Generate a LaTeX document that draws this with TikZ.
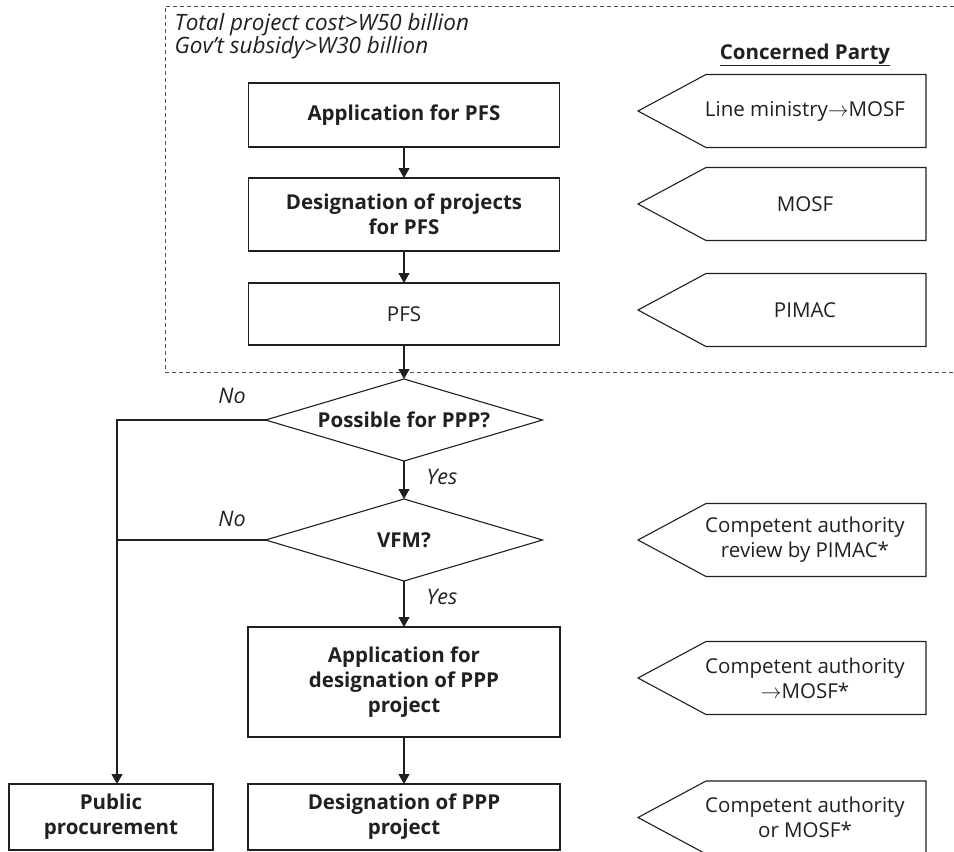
\documentclass[tikz,border=0pt]{standalone}
\usepackage{fontspec}
\setmainfont{Open Sans}
\usetikzlibrary{shapes.geometric,arrows.meta}
\definecolor{ink}{RGB}{35,31,32}
\newcommand\fsz{\fontsize{20.5}{25}\selectfont}
\newcommand\isz{\fontsize{21.5}{25}\selectfont}
\newcommand\hsz{\fontsize{22.5}{25}\selectfont}
\begin{document}
\begin{tikzpicture}[x=1pt,y=-1pt,
  every node/.style={text=ink, font=\fsz},
  line/.style={draw=ink, line width=1.1pt},
  arr/.style={line, -{Triangle[width=11pt,length=10pt]}},
  box/.style={draw=ink, line width=1.1pt, rectangle, align=center, inner sep=0pt, outer sep=0pt, font=\fsz\bfseries},
  plainbox/.style={box, font=\fsz},
  dia/.style={draw=ink, line width=1.1pt, diamond, aspect=3.3, inner sep=0pt, outer sep=0pt, minimum width=277pt, minimum height=82pt, font=\fsz\bfseries},
  party/.style={align=center, font=\fsz},
  pent/.style={draw=ink, line width=1.1pt, line join=miter},
  lab/.style={font=\isz\itshape},
  head/.style={font=\hsz\itshape},
  frame/.style={draw=ink!80, line width=0.8pt, dash pattern=on 4pt off 3pt}
]
\useasboundingbox (0,0) rectangle (954,852);

% dashed frame
\draw[frame] (954,6) -- (165,6) -- (165,372) -- (954,372);
\node[head, anchor=base west] (h1) at (171,30) {Total project cost>W50 billion};
\node[head, anchor=base west] (h2) at (171,53) {Gov’t subsidy>W30 billion};
\node[font=\fsz\bfseries] (cp) at (805,55) {\underline{Concerned Party}};

% flow boxes
\node[box, minimum width=311pt, minimum height=64pt] (b1) at (404,115) {Application for PFS};
\node[box, minimum width=311pt, minimum height=73pt] (b2) at (404,214.5) {Designation of projects\\for PFS};
\node[plainbox, minimum width=311pt, minimum height=62pt] (b3) at (404,314) {PFS};
\node[dia] (d1) at (404,420) {Possible for PPP?};
\node[dia] (d2) at (404,540) {VFM?};
\node[box, minimum width=312pt, minimum height=110pt] (b4) at (404,682) {Application for\\designation of PPP\\project};
\node[box, minimum width=312pt, minimum height=66pt] (b5) at (404,817) {Designation of PPP\\project};
\node[box, minimum width=204pt, minimum height=66pt] (pub) at (111,817) {Public\\procurement};

% connectors
\draw[arr] (b1) -- (b2);
\draw[arr] (b2) -- (b3);
\draw[arr] (b3) -- (d1);
\draw[arr] (d1) -- (d2);
\draw[arr] (d2) -- (b4);
\draw[arr] (b4) -- (b5);
\coordinate (ca) at (117,420);
\draw[arr] (d1.west) -- (ca) -- (ca |- pub.north);
\draw[line] (d2.west) -- (d2.west -| ca);

\node[lab] (no1) at (232,396) {No};
\node[lab] (no2) at (232,519) {No};
\node[lab] (yes1) at (442,477) {Yes};
\node[lab] (yes2) at (442,597) {Yes};

% concerned party pentagons
\draw[pent] (638,111) -- (706,74.5) -- (926,74.5) -- (926,147.5) -- (706,147.5) -- cycle;
\node[party] (p1) at (805,111) {Line ministry$\rightarrow$MOSF};
\draw[pent] (638,204) -- (706,167.5) -- (926,167.5) -- (926,240.5) -- (706,240.5) -- cycle;
\node[party] (p2) at (805,204) {MOSF};
\draw[pent] (638,310) -- (706,273.5) -- (926,273.5) -- (926,346.5) -- (706,346.5) -- cycle;
\node[party] (p3) at (805,310) {PIMAC};
\draw[pent] (638,540) -- (706,503.5) -- (926,503.5) -- (926,576.5) -- (706,576.5) -- cycle;
\node[party] (p4) at (805,540) {Competent authority\\review by PIMAC*};
\draw[pent] (638,678) -- (706,641.5) -- (926,641.5) -- (926,714.5) -- (706,714.5) -- cycle;
\node[party] (p5) at (805,678) {Competent authority\\$\rightarrow$MOSF*};
\draw[pent] (638,817.5) -- (706,781) -- (926,781) -- (926,854) -- (706,854) -- cycle;
\node[party] (p6) at (805,817.5) {Competent authority\\or MOSF*};
\end{tikzpicture}
\end{document}
